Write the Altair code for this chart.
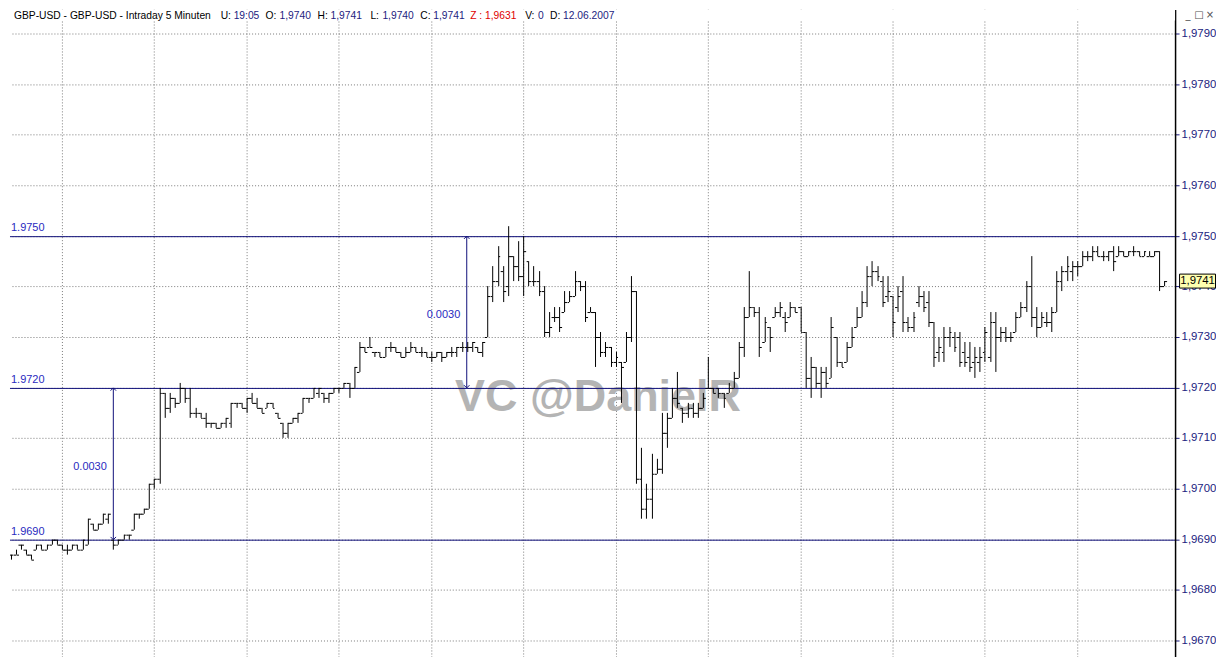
import altair as alt
import pandas as pd

# ---- data (prices in pips above 1.9600) ----
opens = [87,87,89,88,87,88,89,88,89,90, 89,88,88,89,88,89,93,92,93,94,
         90,89,90,91,92,95,95,96,101,102, 119,116,118,117,120,118,115,115,114,113,
         113,112,113,113,117,117,116,118,117,116, 116,117,115,113,111,113,114,115,118,118,
         119,119,118,119,120,120,121,120,123,128, 128,127,127,126,128,128,127,126,127,128,
         127,127,126,126,127,126,127,127,128,128, 128,128,127,130,138,141,143,140,146,144,
         142,145,141,141,139,131,134,134,135,137, 138,141,140,135,135,130,127,128,125,125,
         125,130,139,102,96,98,103,104,111,114, 118,116,115,116,115,116,120,120,120,119,
         119,120,122,128,134,136,135,129,132,134, 135,134,134,136,136,131,122,124,121,123,
         122,130,125,125,128,132,134,137,142,143, 141,138,138,136,139,133,132,137,138,137,
         133,127,127,130,130,130,127,126,125,125, 127,126,133,130,131,130,131,134,136,140,
         134,132,133,133,135,141,143,143,144,144, 146,146,147,146,146,147,146,147,146,147,
         147,146,146,146,147,140]
highs = [87,88,89,88,87,89,89,89,90,90, 89,89,89,89,90,94,93,93,95,95,
         90,90,91,91,95,95,96,101,102,120, 119,119,118,121,120,120,116,115,115,113,
         113,113,114,117,117,117,118,119,118,116, 117,117,115,113,113,114,115,118,118,120,
         120,119,119,120,120,121,121,124,129,128, 130,127,127,128,129,128,127,128,129,128,
         128,127,127,127,127,127,128,128,129,129, 129,128,129,140,144,148,144,152,146,149,
         150,145,144,143,140,135,136,136,139,139, 143,141,141,136,135,131,129,128,127,125,
         131,142,139,108,101,107,106,115,115,120, 123,116,117,117,117,119,126,120,120,119,
         121,123,129,136,143,136,136,134,132,136, 137,135,137,136,136,131,126,124,124,124,
         134,130,125,129,132,136,139,144,145,144, 142,142,138,140,142,134,135,140,139,139,
         133,130,132,132,131,131,129,129,128,128, 132,135,135,132,132,131,135,137,141,146,
         136,135,135,136,143,144,146,145,145,147, 147,148,148,147,147,148,148,147,147,148,
         147,147,147,147,147,141]
lows = [86,87,88,87,86,88,88,88,89,89, 88,87,88,88,88,89,92,92,93,93,
        88,89,90,90,92,94,95,96,100,101, 114,115,116,117,117,114,114,114,112,112,
        112,112,112,112,116,116,115,117,116,115, 116,116,114,110,110,113,113,115,117,118,
        118,117,117,119,119,120,118,120,123,127, 128,126,126,126,127,127,126,126,127,127,
        126,126,125,126,125,126,126,126,127,127, 127,127,126,130,137,140,137,138,141,141,
        138,140,140,138,130,130,133,131,135,137, 138,139,133,135,124,126,126,124,124,117,
        125,129,101,94,94,94,103,103,108,114, 116,113,114,114,114,116,120,119,118,116,
        119,120,122,126,134,134,126,129,127,134, 134,131,134,135,131,120,118,120,118,120,
        122,124,124,125,128,132,134,136,140,141, 136,137,130,135,131,131,131,136,135,132,
        124,125,125,128,127,124,124,123,122,123, 125,125,123,129,129,129,131,134,135,132,
        130,132,132,131,135,139,141,141,142,144, 145,145,146,145,145,143,146,146,146,146,
        146,146,146,146,139,140]
closes = [87,87,89,87,86,89,88,89,90,89, 88,88,89,88,90,94,92,93,95,95,
          89,90,91,91,95,95,96,101,102,119, 116,118,117,120,118,115,115,114,113,113,
          112,113,114,117,117,116,118,117,116,115, 117,116,114,111,113,114,115,118,118,120,
          120,118,119,120,120,121,120,124,128,127, 128,127,126,128,128,127,126,127,128,127,
          127,126,126,127,126,127,127,128,128,128, 129,127,129,138,141,146,139,146,144,142,
          147,141,141,139,131,132,134,132,137,138, 141,140,134,135,130,127,128,125,126,124,
          130,139,102,96,98,103,104,111,114,118, 117,115,116,115,116,118,120,119,119,118,
          120,122,128,134,136,135,128,133,130,135, 136,133,136,135,131,122,124,121,123,121,
          132,125,124,128,130,134,137,142,143,142, 137,139,133,138,133,132,134,138,136,133,
          126,128,130,131,128,125,125,124,126,126, 131,133,130,131,130,130,134,136,140,134,
          132,134,133,135,141,143,144,144,144,146, 146,147,146,146,147,145,147,146,147,147,
          146,147,146,147,140,141]

y_ticks = [1.9670, 1.9680, 1.9690, 1.9700, 1.9710, 1.9720, 1.9730,
           1.9740, 1.9750, 1.9760, 1.9770, 1.9780, 1.9790]
x_grid = [10, 28, 46, 64, 82, 100, 118, 136, 154, 172, 190, 208]
levels = [1.9690, 1.9720, 1.9750]
level_text = ["1.9690", "1.9720", "1.9750"]
arrow_x = [19.94, 88.9]
arrow_from = [1.9690, 1.9720]
arrow_to = [1.9720, 1.9750]
arrow_text = ["0.0030", "0.0030"]
last_price = 1.9741
last_label = "1,9741"
watermark = "VC @DanielR"
header_parts = [
    ("GBP-USD - GBP-USD - Intraday 5 Minuten", "#000000"),
    ("U:", "#000000"), ("19:05", "#1c1c80"),
    ("O:", "#000000"), ("1,9740", "#1c1c80"),
    ("H:", "#000000"), ("1,9741", "#1c1c80"),
    ("L:", "#000000"), ("1,9740", "#1c1c80"),
    ("C:", "#000000"), ("1,9741", "#1c1c80"),
    ("Z : 1,9631", "#e00000"),
    ("V:", "#000000"), ("0", "#1c1c80"),
    ("D:", "#000000"), ("12.06.2007", "#1c1c80"),
]
header_x = [4, 211, 224, 256, 270, 308, 321, 361, 373, 411, 424, 461, 516, 529, 541, 554]
window_icons = ["_", "□", "×"]
icon_x = [1180, 1191, 1202]

BASE = 1.96
W, H = 1167, 657
FONT = "Liberation Sans"
NAVY = "#10107a"
GRID = "#7a7a7a"

X = alt.Scale(domain=[-0.124, 227.1], nice=False, zero=False, round=True)
Y = alt.Scale(domain=[1.966507, 1.979474], nice=False, zero=False, round=True)
AY = alt.Axis(orient="right", values=y_ticks, title=None,
              labelExpr="replace(format(datum.value, '.4f'), '.', ',')",
              labelColor="#1c1c80", labelFont=FONT, labelFontSize=11.4,
              tickColor="#1c1c80", tickSize=4, labelPadding=2,
              domainColor="#000000", domainWidth=1.5,
              grid=True, gridColor=GRID, gridDash=[1, 2], gridWidth=1)


def xq(field):
    return alt.X(field, type="quantitative", scale=X, axis=None)


def yq(field):
    return alt.Y(field, type="quantitative", scale=Y, axis=AY)


df = pd.DataFrame({
    "i": list(range(len(opens))),
    "o": [BASE + v / 10000 for v in opens],
    "h": [BASE + v / 10000 for v in highs],
    "l": [BASE + v / 10000 for v in lows],
    "c": [BASE + v / 10000 for v in closes],
})
df["xo"] = df["i"] - 0.55
df["xc"] = df["i"] + 0.55

axes_layer = alt.Chart(pd.DataFrame({"i": [0.0], "p": [1.97]})).mark_point(opacity=0).encode(
    x=xq("i"), y=yq("p"))
vgrid = alt.Chart(pd.DataFrame({"g": x_grid})).mark_rule(
    color=GRID, strokeWidth=1, strokeDash=[1, 2], xOffset=0.5).encode(x=xq("g"))

wm = alt.Chart(pd.DataFrame({"t": [watermark]})).mark_text(
    font=FONT, fontSize=45, fontWeight="bold", color="#b4b4b4", align="center",
    baseline="alphabetic").encode(x=alt.value(589), y=alt.value(402), text="t:N")

lv = pd.DataFrame({"y": levels, "t": level_text})
level_lines = alt.Chart(lv).mark_rule(color=NAVY, strokeWidth=1, yOffset=0.5).encode(y=yq("y"))
level_labels = alt.Chart(lv).mark_text(font=FONT, fontSize=11, color="#2a2ac0", align="left",
                                       baseline="bottom", dy=-3).encode(
    x=alt.value(1), y=yq("y"), text="t:N")

ar = pd.DataFrame({"x": arrow_x, "y1": arrow_from, "y2": arrow_to, "t": arrow_text})
ar["ym"] = (ar["y1"] + ar["y2"]) / 2
arrow_lines = alt.Chart(ar).mark_rule(color=NAVY, strokeWidth=1, xOffset=0.5).encode(
    x=xq("x"), y=yq("y1"), y2="y2:Q")
arrow_up = alt.Chart(ar).mark_point(shape="M -1 1 L 0 0 L 1 1", size=30, filled=False,
                                    color=NAVY, strokeWidth=1, opacity=1, xOffset=0.5).encode(
    x=xq("x"), y=yq("y2"))
arrow_dn = alt.Chart(ar).mark_point(shape="M -1 -1 L 0 0 L 1 -1", size=30, filled=False,
                                    color=NAVY, strokeWidth=1, opacity=1, xOffset=0.5).encode(
    x=xq("x"), y=yq("y1"))
arrow_labels = alt.Chart(ar).mark_text(font=FONT, fontSize=11, color="#2a2ac0", align="right",
                                       baseline="middle", dx=-6, dy=3).encode(
    x=xq("x"), y=yq("ym"), text="t:N")

bars = alt.Chart(df)
hl = bars.mark_rule(color="black", strokeWidth=1, xOffset=0.5, clip=True).encode(
    x=xq("i"), y=yq("l"), y2="h:Q")
op = bars.mark_rule(color="black", strokeWidth=1, xOffset=0.5, yOffset=0.5, clip=True).encode(
    x=xq("xo"), x2="i:Q", y=yq("o"))
cl = bars.mark_rule(color="black", strokeWidth=1, xOffset=0.5, yOffset=0.5, clip=True).encode(
    x=xq("i"), x2="xc:Q", y=yq("c"))

head_bg = alt.Chart(pd.DataFrame({"a": [0]})).mark_rect(color="white").encode(
    x=alt.value(0), x2=alt.value(W), y=alt.value(0), y2=alt.value(11))
head_layers = []
for (txt, col), hx in zip(header_parts, header_x):
    head_layers.append(
        alt.Chart(pd.DataFrame({"t": [txt]})).mark_text(
            font=FONT, fontSize=10.3, color=col, align="left", baseline="middle").encode(
            x=alt.value(hx), y=alt.value(6), text="t:N"))
for g, gx in zip(window_icons, icon_x):
    head_layers.append(
        alt.Chart(pd.DataFrame({"t": [g]})).mark_text(
            font="DejaVu Sans", fontSize=10, color="#505050", align="center",
            baseline="middle").encode(x=alt.value(gx), y=alt.value(5), text="t:N"))

pb = pd.DataFrame({"y": [last_price], "t": [last_label]})
price_box = alt.Chart(pb).mark_rect(fill="#ffffb0", stroke="black", strokeWidth=1,
                                    yOffset=-7, y2Offset=7).encode(
    x=alt.value(1171.5), x2=alt.value(1207.5), y=yq("y"), y2="y:Q")
price_txt = alt.Chart(pb).mark_text(font=FONT, fontSize=11.4, color="black", align="center",
                                    baseline="middle").encode(
    x=alt.value(1189.5), y=yq("y"), text="t:N")

chart = alt.layer(
    axes_layer, vgrid, wm, level_lines, level_labels, arrow_lines, arrow_up, arrow_dn,
    arrow_labels, hl, op, cl, head_bg, *head_layers, price_box, price_txt
).properties(width=W, height=H, padding=0, background="white").configure_view(stroke=None)

chart.save("out.html", embed_options={"renderer": "svg", "actions": False})
